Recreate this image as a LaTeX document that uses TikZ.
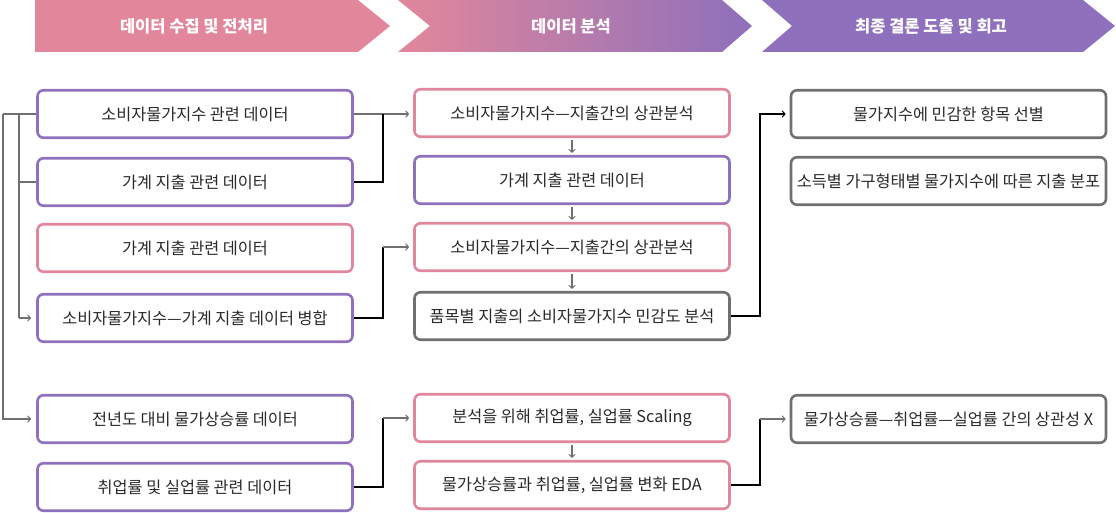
\documentclass[tikz,border=0pt]{standalone}
\usepackage{fontspec}
\setmainfont{Noto Sans CJK KR}
\usetikzlibrary{arrows.meta}
\definecolor{cpink}{HTML}{E2879B}
\definecolor{cpurple}{HTML}{8E70BC}
\definecolor{cgray}{HTML}{707070}
\definecolor{ctext}{HTML}{2A2A2A}
\begin{document}
\begin{tikzpicture}[x=1pt,y=-1pt,
  basebox/.style={rounded corners=6pt, line width=2.6pt, minimum width=315pt, minimum height=47.5pt, inner sep=0pt, text=ctext, font=\fontsize{16.3}{19}\selectfont, fill=white},
  pbox/.style={basebox, draw=cpurple},
  kbox/.style={basebox, draw=cpink},
  gbox/.style={basebox, draw=cgray},
  hdtext/.style={text=white, font=\fontsize{16.5}{19}\selectfont\bfseries},
  cl/.style={line width=1.1pt, draw=cgray},
  bl/.style={line width=1.1pt, draw=black},
  arr/.style={-{Straight Barb[length=3pt,width=6.5pt,line width=1pt]}},
]
\useasboundingbox (0,0) rectangle (1116,513);
% banners
\fill[cpink] (35,0) -- (358,0) -- (390,26) -- (358,52) -- (35,52) -- cycle;
\shade[left color=cpink, right color=cpurple] (398,0) -- (722,0) -- (752,26) -- (722,52) -- (398,52) -- (430,26) -- cycle;
\fill[cpurple] (762,0) -- (1083,0) -- (1115,26) -- (1083,52) -- (762,52) -- (792,26) -- cycle;
\node[hdtext] (h1) at (194,26) {데이터 수집 및 전처리};
\node[hdtext] (h2) at (571,26) {데이터 분석};
\node[hdtext] (h3) at (931,26) {최종 결론 도출 및 회고};
% column 1
\node[pbox] (a1) at (195,114) {소비자물가지수 관련 데이터};
\node[pbox] (a2) at (195,182) {가계 지출 관련 데이터};
\node[kbox] (a3) at (195,248) {가계 지출 관련 데이터};
\node[pbox] (a4) at (195,318) {소비자물가지수—가계 지출 데이터 병합};
\node[pbox] (a5) at (195,419) {전년도 대비 물가상승률 데이터};
\node[pbox] (a6) at (195,487) {취업률 및 실업률 관련 데이터};
% column 2
\node[kbox] (b1) at (572,113) {소비자물가지수—지출간의 상관분석};
\node[pbox] (b2) at (572,180) {가계 지출 관련 데이터};
\node[kbox] (b3) at (572,247) {소비자물가지수—지출간의 상관분석};
\node[gbox] (b4) at (572,316) {품목별 지출의 소비자물가지수 민감도 분석};
\node[kbox] (b5) at (572,418) {분석을 위해 취업률, 실업률 Scaling};
\node[kbox] (b6) at (572,485) {물가상승률과 취업률, 실업률 변화 EDA};
% column 3
\node[gbox] (c1) at (948.5,114) {물가지수에 민감한 항목 선별};
\node[gbox] (c2) at (948.5,181) {소득별 가구형태별 물가지수에 따른 지출 분포};
\node[gbox] (c5) at (948.5,419) {물가상승률—취업률—실업률 간의 상관성 X};
% guide coordinates
\coordinate (L1) at (3,0);
\coordinate (L2) at (19,0);
\coordinate (M1) at (383,0);
\coordinate (M2) at (760,0);
% left connectors
\draw[cl] (a1.west) -- (L1 |- a1.west);
\draw[cl,arr] (L1 |- a1.west) -- (L1 |- a5.west) -- ([xshift=-5pt]a5.west);
\draw[cl] (L2 |- a1.west) -- (L2 |- a4.west);
\draw[cl] (L2 |- a2.west) -- (a2.west);
\draw[cl,arr] (L2 |- a4.west) -- ([xshift=-5pt]a4.west);
% column 1 -> column 2
\draw[cl,arr] (a1.east) -- (M1 |- a1.east) -- ([xshift=-4pt]b1.west |- a1.east);
\draw[bl] (a2.east) -- (M1 |- a2.east) -- (M1 |- a1.east);
\draw[bl] (a4.east) -- (M1 |- a4.east) -- (M1 |- b3.west);
\draw[cl,arr] (M1 |- b3.west) -- ([xshift=-4pt]b3.west);
\draw[bl] (a6.east) -- (M1 |- a6.east) -- (M1 |- b5.west);
\draw[cl,arr] (M1 |- b5.west) -- ([xshift=-4pt]b5.west);
% column 2 vertical
\draw[cl,arr,shorten <=2pt,shorten >=2pt] (b1.south) -- (b2.north);
\draw[cl,arr,shorten <=2pt,shorten >=2pt] (b2.south) -- (b3.north);
\draw[cl,arr,shorten <=2pt,shorten >=2pt] (b3.south) -- (b4.north);
\draw[cl,arr,shorten <=2pt,shorten >=2pt] (b5.south) -- (b6.north);
% column 2 -> column 3
\draw[bl,arr] (b4.east) -- (M2 |- b4.east) -- (M2 |- c1.west) -- ([xshift=-4pt]c1.west);
\draw[bl] (b6.east) -- (M2 |- b6.east) -- (M2 |- c5.west);
\draw[cl,arr] (M2 |- c5.west) -- ([xshift=-4pt]c5.west);
\end{tikzpicture}
\end{document}
